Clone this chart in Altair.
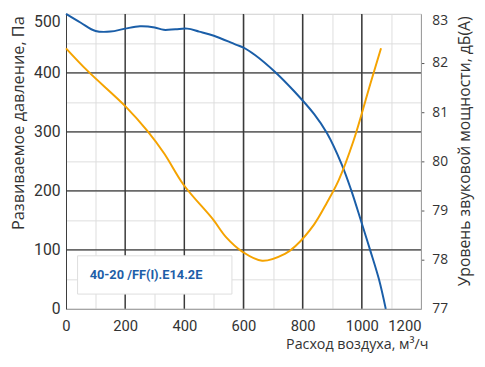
import altair as alt
import pandas as pd

# Pressure curve (left axis, Pa)
p_flow = [0, 50, 100, 150, 200, 250, 300, 330, 370, 410, 450, 500, 574, 600, 640, 706, 773, 839, 882, 932, 965, 998, 1028, 1058, 1081]
p_val = [500, 485, 471, 470, 475, 479, 477, 473, 474, 475, 470, 463, 448, 443, 430, 402, 368, 330, 298, 245, 200, 148, 100, 50, 0]

# Sound power curve (right axis, dB(A))
s_flow = [0, 73, 201, 275, 332, 398, 497, 541, 597, 663, 740, 776, 839, 882, 922, 972, 1028, 1065]
s_val = [82.3, 81.84, 81.12, 80.62, 80.16, 79.52, 78.82, 78.46, 78.16, 77.98, 78.12, 78.28, 78.72, 79.16, 79.62, 80.42, 81.56, 82.3]

# Axis ticks / grid positions
x_major = [200, 400, 600, 800, 1000]
y_major = [100, 200, 300, 400]
x_ticks = list(range(0, 1201, 100))
y_ticks = list(range(0, 501, 50))
r_ticks = [77, 78, 79, 80, 81, 82, 83]

label_text = "40-20 /FF(I).E14.2E"

press = pd.DataFrame({"flow": p_flow, "val": p_val})
sound = pd.DataFrame({"flow": s_flow, "val": s_val})
box = pd.DataFrame({"cx": [300], "cy": [57.5], "tx": [80], "ty": [57], "t": [label_text]})
gx_major = pd.DataFrame({"flow": x_major})
gy_major = pd.DataFrame({"val": y_major})

LBL_FONT = "Roboto"
TTL_FONT = "Open Sans"
DARK = "#333333"
MAJOR = "#3a3a3a"
MINOR = "#dddddd"

xscale = alt.Scale(domain=[0, 1200], nice=False, zero=False)
yscale = alt.Scale(domain=[0, 500], nice=False)
rscale = alt.Scale(domain=[77, 83], nice=False, zero=False)

x_axis = alt.Axis(
    values=x_ticks, format="d",
    labelExpr="datum.value % 200 === 0 ? datum.label : ''",
    labelAlign=alt.condition("datum.value == 1200", alt.value("right"), alt.value("center")),
    labelFont=LBL_FONT, labelFontSize=15, labelColor=DARK, labelPadding=10,
    ticks=False, domainColor="#999999", grid=True, gridColor=MINOR,
    title="Расход воздуха, м³/ч", titleFont=TTL_FONT, titleFontSize=14.5, titleFontWeight="normal",
    titleColor=DARK, titleAnchor="end", titleAlign="right", titleX=368, titleY=40,
    titleBaseline="alphabetic",
)

y_axis = alt.Axis(
    values=y_ticks, format="d",
    labelExpr="datum.value % 100 === 0 ? datum.label : ''",
    labelBaseline=alt.condition("datum.value == 500", alt.value("top"), alt.value("middle")),
    labelFont=LBL_FONT, labelFontSize=16, labelColor=DARK, labelPadding=6,
    ticks=False, domainColor=MAJOR, grid=True, gridColor=MINOR,
    title="Развиваемое давление, Па", titleFont=TTL_FONT, titleFontSize=16.5, titleFontWeight="normal",
    titleColor=DARK, titleAnchor="end", titleAngle=-90, titleAlign="right", titleX=-56, titleY=2,
    titleBaseline="top",
)

r_axis = alt.Axis(
    orient="right",
    values=r_ticks,
    labelBaseline=alt.condition("datum.value == 83", alt.value("top"), alt.value("middle")),
    labelFont=TTL_FONT, labelFontSize=14, labelColor=DARK, labelPadding=6,
    tickSize=5, tickColor="#555555", tickDash=[3, 2],
    tickOpacity=alt.condition("datum.value == 77 || datum.value == 83", alt.value(0), alt.value(1)),
    domainColor="#999999", grid=False,
    title="Уровень звуковой мощности, дБ(А)", titleFont=TTL_FONT, titleFontSize=16, titleFontWeight="normal",
    titleColor=DARK, titleAnchor="end", titleAngle=-90, titleAlign="right", titleX=44, titleY=2,
    titleBaseline="middle",
)


def X(field):
    return alt.X(field, scale=xscale, axis=x_axis)


def Y(field, axis=None):
    return alt.Y(field, scale=yscale, axis=axis)


vmajor = alt.Chart(gx_major).mark_rule(color=MAJOR, strokeWidth=1.5).encode(x=X("flow:Q"))
hmajor = alt.Chart(gy_major).mark_rule(color=MAJOR, strokeWidth=1.5).encode(y=Y("val:Q"))

boxmark = alt.Chart(box).mark_point(
    shape="M-1,-0.248H1V0.248H-1Z", size=24649, filled=True, fill="white", fillOpacity=1,
    stroke="#dddddd", strokeWidth=1, opacity=1,
).encode(x=X("cx:Q"), y=Y("cy:Q"))
txt = alt.Chart(box).mark_text(
    align="left", baseline="middle", font=LBL_FONT, fontSize=13, fontWeight="bold", color="#1d5ea8"
).encode(x=X("tx:Q"), y=Y("ty:Q"), text="t:N")

blue = alt.Chart(press).mark_line(color="#1a5ea8", strokeWidth=2, interpolate="catmull-rom").encode(
    x=X("flow:Q"), y=Y("val:Q", y_axis),
)
orange = alt.Chart(sound).mark_line(color="#f5a300", strokeWidth=2, interpolate="catmull-rom").encode(
    x=X("flow:Q"),
    y=alt.Y("val:Q", scale=rscale, axis=r_axis),
)

chart = alt.layer(vmajor, hmajor, boxmark, txt, blue, orange).resolve_scale(
    y="independent"
).properties(
    width=361, height=300,
    autosize="none",
    padding={"left": 59, "top": 3, "right": 57, "bottom": 48},
    background="white",
).configure_view(stroke="#bbbbbb", strokeWidth=1)

chart.save("out.html", embed_options={"renderer": "svg", "actions": False})
